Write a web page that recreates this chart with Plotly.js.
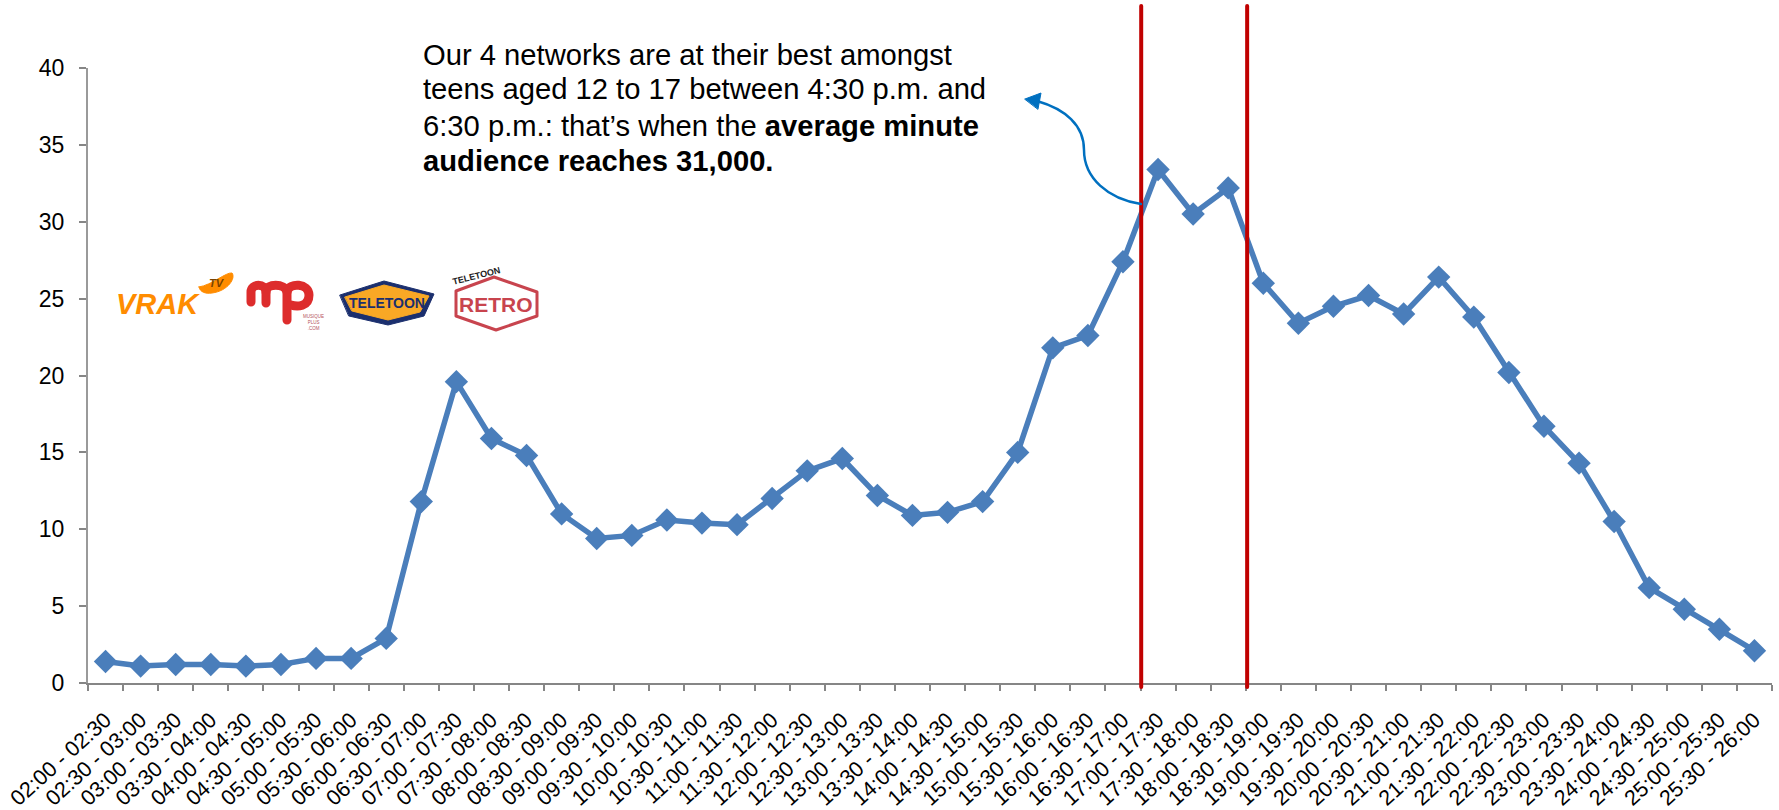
<!DOCTYPE html>
<html>
<head>
<meta charset="utf-8">
<script src="https://cdn.plot.ly/plotly-3.0.1.min.js"></script>
<style>
html,body{margin:0;padding:0;background:#fff}
#chart{width:1779px;height:810px}
.shapelayer path{stroke-linecap:round;stroke-linejoin:round}
</style>
</head>
<body>
<div id="chart"></div>
<script>
const slots = ["02:00 - 02:30","02:30 - 03:00","03:00 - 03:30","03:30 - 04:00","04:00 - 04:30","04:30 - 05:00","05:00 - 05:30","05:30 - 06:00","06:00 - 06:30","06:30 - 07:00","07:00 - 07:30","07:30 - 08:00","08:00 - 08:30","08:30 - 09:00","09:00 - 09:30","09:30 - 10:00","10:00 - 10:30","10:30 - 11:00","11:00 - 11:30","11:30 - 12:00","12:00 - 12:30","12:30 - 13:00","13:00 - 13:30","13:30 - 14:00","14:00 - 14:30","14:30 - 15:00","15:00 - 15:30","15:30 - 16:00","16:00 - 16:30","16:30 - 17:00","17:00 - 17:30","17:30 - 18:00","18:00 - 18:30","18:30 - 19:00","19:00 - 19:30","19:30 - 20:00","20:00 - 20:30","20:30 - 21:00","21:00 - 21:30","21:30 - 22:00","22:00 - 22:30","22:30 - 23:00","23:00 - 23:30","23:30 - 24:00","24:00 - 24:30","24:30 - 25:00","25:00 - 25:30","25:30 - 26:00"];
const audience = [1.4,1.1,1.2,1.2,1.1,1.2,1.6,1.6,2.9,11.8,19.6,15.9,14.8,11.0,9.4,9.6,10.6,10.4,10.3,12.0,13.8,14.6,12.2,10.9,11.1,11.8,15.0,21.8,22.6,27.4,33.4,30.5,32.2,26.0,23.4,24.5,25.2,24.0,26.4,23.8,20.2,16.7,14.3,10.5,6.2,4.8,3.5,2.1];
const yTicks = [0,5,10,15,20,25,30,35,40];
const windowEdges = [29.52,32.54];

const W=1779,H=810,L=88,R=7,T=68,B=127;
const FONT='"Liberation Sans", Arial, sans-serif';
// page pixel -> paper fraction, used for decorations only (callout and logos)
const px=x=>(x-L)/(W-L-R), py=y=>(H-B-y)/(H-T-B);
const path=(pts)=>pts.map(p=>typeof p==='string'?p:px(p[0])+' '+py(p[1])).join(' ');
const poly=(pts)=>'M '+pts.map(p=>px(p[0])+' '+py(p[1])).join(' L ')+' Z';
const deco=(p,o)=>Object.assign({type:'path',xref:'paper',yref:'paper',path:p,layer:'above'},o);
const note=(x,y,text,size,color,extra)=>Object.assign({xref:'paper',yref:'paper',x:px(x),y:py(y),text,showarrow:false,
  font:{family:FONT,size,color},xanchor:'center',yanchor:'middle'},extra||{});

const shapes=[];
windowEdges.forEach(e=>shapes.push({type:'line',xref:'x',yref:'paper',x0:e,x1:e,y0:py(6),y1:py(687),line:{color:'#C00000',width:4},layer:'above'}));
// curved callout arrow
shapes.push(deco(path(['M',[1141,204],'C',[1108,199],[1084,178],[1084,150],'C',[1084,125],[1065,109],[1037,101]]),{line:{color:'#0070C0',width:2.5}}));
shapes.push(deco(poly([[1025,99],[1041,93],[1038,109]]),{fillcolor:'#0070C0',line:{color:'#0070C0',width:1}}));
// VRAK logo: TV swoosh
shapes.push(deco(path(['M',[199,287],'C',[212,285],[226,272],[232,273],'C',[236,278],[228,291],[212,293],'C',[205,294],[200,292],[199,287],'Z']),{fillcolor:'#FF8C00',line:{color:'#FF8C00',width:1}}));
// MP logo strokes
shapes.push(deco(path(['M',[251,302],'L',[251,292],'C',[251,283],[266,283],[266,292],'L',[266,303]]),{line:{color:'#DD2C2C',width:9}}));
shapes.push(deco(path(['M',[266,292],'C',[266,283],[285,283],[287,292],'L',[287,320]]),{line:{color:'#DD2C2C',width:9}}));
shapes.push(deco(path(['M',[287,292],'C',[289,282],[309,283],[309,295],'C',[309,307],[297,307],[291,305]]),{line:{color:'#DD2C2C',width:9}}));
// Teletoon logo badge
shapes.push(deco(poly([[340,295],[384,281],[434,294],[424,316],[388,325],[349,316]]),{fillcolor:'#1B2F6E',line:{color:'#1B2F6E',width:1}}));
shapes.push(deco(poly([[345,297],[384,285],[429,296],[420,312],[388,320],[352,311]]),{fillcolor:'#F9A825',line:{color:'#F9A825',width:1}}));
// Retro logo hexagon
shapes.push(deco(poly([[456,291],[494,277],[537,292],[537,316],[496,330],[456,316]]),{fillcolor:'#FFFFFF',line:{color:'#C8444E',width:3}}));

const annotations=[
  note(421,55,'Our 4 networks are at their best amongst',29.2,'#000',{xanchor:'left'}),
  note(421,89,'teens aged 12 to 17 between 4:30 p.m. and',29.2,'#000',{xanchor:'left'}),
  note(421,126,'6:30 p.m.: that’s when the <b>average minute</b>',29.2,'#000',{xanchor:'left'}),
  note(421,161,'<b>audience reaches 31,000.</b>',29.2,'#000',{xanchor:'left'}),
  note(158,304,'<b><i>VRAK</i></b>',29,'#FF8C00'),
  note(217,283,'<b><i>TV</i></b>',11,'#7A4300'),
  note(313,322,'MUSIQUE<br>PLUS<br>.COM',4.5,'#B5525A'),
  note(387,303,'<b>TELETOON</b>',14,'#1B2F6E'),
  note(496,304,'<b>RETRO</b>',21,'#C8444E'),
  note(476,276,'<b>TELETOON</b>',9,'#222',{textangle:-14})
];

Plotly.newPlot('chart',[{
  type:'scatter',mode:'lines+markers',x:slots,y:audience,cliponaxis:false,
  line:{color:'#4A7EBB',width:5.5},
  marker:{symbol:'diamond',size:18,color:'#4A7EBB',line:{width:0}},
  hoverinfo:'x+y'
}],{
  width:W,height:H,showlegend:false,
  paper_bgcolor:'#fff',plot_bgcolor:'#fff',
  margin:{l:L,r:R,t:T,b:B,pad:0},
  font:{family:FONT,size:20,color:'#000'},
  xaxis:{type:'category',categoryorder:'array',categoryarray:slots,range:[-0.5,47.5],tickson:'boundaries',
    showgrid:false,zeroline:false,showline:true,linecolor:'#868686',linewidth:2,
    ticks:'outside',ticklen:6,tickwidth:2,tickcolor:'#868686',tickangle:-42,automargin:false,ticklabelstandoff:14,
    tickfont:{family:FONT,size:21.5,color:'#000'},tickmode:'array',tickvals:slots,ticktext:slots},
  yaxis:{range:[0,40],tickmode:'array',tickvals:yTicks,showgrid:false,zeroline:false,showline:true,linecolor:'#9A9A9A',linewidth:2,
    ticks:'outside',ticklen:7,tickwidth:2,tickcolor:'#868686',automargin:false,ticklabelstandoff:10,
    tickfont:{family:FONT,size:23,color:'#000'}},
  shapes,annotations
},{displayModeBar:false,staticPlot:true});
</script>
</body>
</html>
